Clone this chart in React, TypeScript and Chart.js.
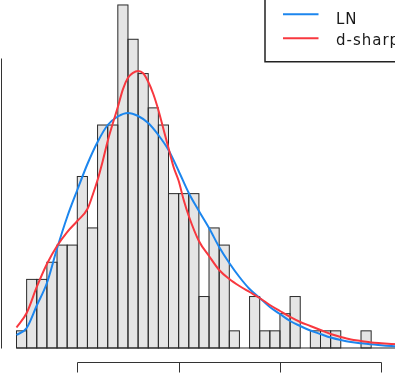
import React, { useEffect, useRef } from 'react';
import { Chart, registerables } from 'chart.js';

Chart.register(...registerables);

// Histogram bins (counts per bin), first bin starts at binStart
const binStart = 0.4;
const binWidth = 0.1;
const binCounts = [
  1, 4, 4, 5, 6, 6, 10, 7, 13, 13, 20, 18, 16, 14, 13, 9, 9, 9, 3, 7, 6, 1, 0, 3, 1, 1, 2, 3, 0, 1, 1, 1, 0, 0, 1, 0, 0, 0, 3,
];

const xTickValues = [1, 2, 3, 4];
const xTickLabels = ['1', '2', '3', '4'];
const yTickValues = [0, 0.2, 0.4, 0.6, 0.8];
const yTickLabels = ['0.0', '0.2', '0.4', '0.6', '0.8'];

// LN density curve
const lnX = [
  0.4, 0.5, 0.6, 0.7, 0.8, 0.9, 1.0, 1.1, 1.2, 1.3, 1.4, 1.5, 1.6, 1.7, 1.8, 1.9, 2.0, 2.1, 2.2, 2.3, 2.4, 2.5, 2.6, 2.7,
  2.8, 2.9, 3.0, 3.1, 3.2, 3.3, 3.4, 3.5, 3.6, 3.7, 3.8, 3.9, 4.0, 4.1, 4.2,
];
const lnY = [
  0.0359, 0.0553, 0.1174, 0.1796, 0.2749, 0.362, 0.4366, 0.5084, 0.5692, 0.6162, 0.6397, 0.6494, 0.6411, 0.6217, 0.5886,
  0.5471, 0.4891, 0.4283, 0.3786, 0.3316, 0.2791, 0.2349, 0.1962, 0.163, 0.1382, 0.1133, 0.0939, 0.0746, 0.0608, 0.0484,
  0.0387, 0.029, 0.0221, 0.0166, 0.013, 0.0102, 0.0075, 0.0055, 0.0041,
];

// d-sharp density curve
const dsX = [
  0.4, 0.5, 0.6, 0.7, 0.8, 0.9, 1.0, 1.1, 1.15, 1.2, 1.25, 1.3, 1.35, 1.4, 1.45, 1.5, 1.55, 1.6, 1.65, 1.7, 1.75, 1.8, 1.85,
  1.9, 1.95, 2.0, 2.05, 2.1, 2.2, 2.3, 2.4, 2.5, 2.6, 2.7, 2.8, 2.9, 3.0, 3.1, 3.2, 3.3, 3.4, 3.5, 3.6, 3.7, 3.8, 3.9, 4.0,
  4.1, 4.2,
];
const dsY = [
  0.0566, 0.0967, 0.1686, 0.2321, 0.2818, 0.3205, 0.3509, 0.384, 0.4214, 0.4642, 0.5156, 0.572, 0.6201, 0.6659, 0.7148,
  0.7466, 0.7604, 0.7654, 0.7592, 0.7358, 0.7019, 0.6576, 0.6051, 0.5526, 0.5001, 0.462, 0.409, 0.3648, 0.2957, 0.2542,
  0.2155, 0.1907, 0.1713, 0.1547, 0.1382, 0.1188, 0.1022, 0.0857, 0.0718, 0.0608, 0.0497, 0.0387, 0.0304, 0.0235, 0.0193,
  0.0152, 0.013, 0.0111, 0.0097,
];

const legendLabels = ['LN', 'd-sharp'];
const seriesColors = ['#1c86ee', '#f8383f'];

const FONT = '"DejaVu Sans", Verdana, sans-serif';

export default function App() {
  const ref = useRef<HTMLCanvasElement>(null);

  useEffect(() => {
    const canvas = ref.current;
    if (!canvas) return;

    const total = binCounts.reduce((a, b) => a + b, 0);
    const bars = binCounts.map((c, i) => ({ x: binStart + (i + 0.5) * binWidth, y: c / (total * binWidth) }));
    const binEnd = binStart + binCounts.length * binWidth;
    const xr = binEnd - binStart;
    const xMin = binStart - 0.04 * xr;
    const xMax = binEnd + 0.04 * xr;
    const yTop = Math.max(...bars.map((b) => b.y));
    const yMin = -0.04 * yTop;
    const yMax = 1.04 * yTop;

    const outlinePlugin = {
      id: 'histOutline',
      afterDatasetDraw(chart: any, args: any) {
        if (args.index !== 0) return;
        const { ctx } = chart;
        const xs = chart.scales.x;
        const ys = chart.scales.y;
        ctx.save();
        ctx.strokeStyle = '#2b2b2b';
        ctx.lineWidth = 1;
        args.meta.data.forEach((el: any) => {
          const p = el.getProps(['x', 'y', 'base', 'width'], true);
          if (p.base - p.y > 0.2) {
            ctx.strokeRect(p.x - p.width / 2, p.y, p.width, p.base - p.y);
          }
        });
        const y0 = ys.getPixelForValue(0);
        ctx.beginPath();
        ctx.moveTo(xs.getPixelForValue(binStart), y0);
        ctx.lineTo(xs.getPixelForValue(binEnd), y0);
        ctx.stroke();
        ctx.restore();
      },
    };

    const axesLegendPlugin = {
      id: 'rAxesLegend',
      afterDraw(chart: any) {
        const { ctx, chartArea } = chart;
        const xs = chart.scales.x;
        const ys = chart.scales.y;
        ctx.save();
        ctx.strokeStyle = '#333';
        ctx.fillStyle = '#000';
        ctx.lineWidth = 1;
        // x axis
        const yb = Math.round(chartArea.bottom) + 0.5;
        const xp = xTickValues.map((v) => Math.round(xs.getPixelForValue(v)) + 0.5);
        ctx.beginPath();
        ctx.moveTo(xp[0], yb);
        ctx.lineTo(xp[xp.length - 1], yb);
        xp.forEach((p) => {
          ctx.moveTo(p, yb);
          ctx.lineTo(p, yb + 10);
        });
        ctx.stroke();
        ctx.font = `15px ${FONT}`;
        ctx.textAlign = 'center';
        ctx.textBaseline = 'top';
        xp.forEach((p, i) => ctx.fillText(xTickLabels[i], p, yb + 26));
        // y axis (line only; ticks and labels fall left of the view)
        const xl = Math.round(chartArea.left) + 0.5;
        const yp = yTickValues.map((v) => Math.round(ys.getPixelForValue(v)) + 0.5);
        ctx.beginPath();
        ctx.moveTo(xl, yp[0]);
        ctx.lineTo(xl, yp[yp.length - 1]);
        ctx.stroke();
        yp.forEach((p, i) => {
          ctx.save();
          ctx.translate(xl - 40, p);
          ctx.rotate(-Math.PI / 2);
          ctx.textAlign = 'center';
          ctx.textBaseline = 'middle';
          ctx.fillText(yTickLabels[i], 0, 0);
          ctx.restore();
        });

        // legend (top-right of plot region)
        const bw = 162.5;
        const bh = 70.5;
        const bx = chartArea.right - bw;
        const by = chartArea.top;
        ctx.fillStyle = '#fff';
        ctx.fillRect(bx, by, bw, bh);
        ctx.strokeStyle = '#222';
        ctx.lineWidth = 1.5;
        ctx.strokeRect(bx, by, bw, bh);
        const lineY = [23, 47];
        const textY = [32.8, 54.2];
        legendLabels.forEach((lab, i) => {
          ctx.strokeStyle = seriesColors[i];
          ctx.lineWidth = 2;
          ctx.beginPath();
          ctx.moveTo(bx + 18, by + lineY[i]);
          ctx.lineTo(bx + 53.5, by + lineY[i]);
          ctx.stroke();
          ctx.fillStyle = '#1a1a1a';
          ctx.font = `15px ${FONT}`;
          (ctx as any).letterSpacing = '1px';
          ctx.textAlign = 'left';
          ctx.textBaseline = 'alphabetic';
          ctx.fillText(lab, bx + 71, by + textY[i]);
        });
        ctx.restore();
      },
    };

    const chart = new Chart(canvas, {
      type: 'bar',
      data: {
        datasets: [
          {
            type: 'bar',
            label: 'hist',
            data: bars,
            backgroundColor: '#e5e5e5',
            borderWidth: 0,
            barPercentage: 1,
            categoryPercentage: 1,
            order: 3,
          } as any,
          {
            type: 'line',
            label: legendLabels[0],
            data: lnX.map((x, i) => ({ x, y: lnY[i] })),
            borderColor: seriesColors[0],
            borderWidth: 2,
            pointRadius: 0,
            fill: false,
            cubicInterpolationMode: 'monotone',
            order: 2,
          } as any,
          {
            type: 'line',
            label: legendLabels[1],
            data: dsX.map((x, i) => ({ x, y: dsY[i] })),
            borderColor: seriesColors[1],
            borderWidth: 2,
            pointRadius: 0,
            fill: false,
            cubicInterpolationMode: 'monotone',
            order: 1,
          } as any,
        ],
      },
      options: {
        responsive: false,
        animation: false,
        devicePixelRatio: 1,
        events: [],
        layout: { padding: { left: 60.69, top: 21.25, right: 52.5, bottom: 58.28 } },
        scales: {
          x: { type: 'linear', min: xMin, max: xMax, display: false, offset: false, grid: { display: false } },
          y: { type: 'linear', min: yMin, max: yMax, display: false, grid: { display: false } },
        },
        plugins: { legend: { display: false }, tooltip: { enabled: false }, title: { display: false } },
      } as any,
      plugins: [outlinePlugin, axesLegendPlugin],
    });

    return () => chart.destroy();
  }, []);

  return (
    <div
      style={{
        position: 'fixed',
        left: 0,
        top: 0,
        width: 395,
        height: 385,
        overflow: 'hidden',
        background: '#fff',
      }}
    >
      <canvas ref={ref} width={540} height={450} style={{ position: 'absolute', left: -60, top: -30 }} />
    </div>
  );
}
